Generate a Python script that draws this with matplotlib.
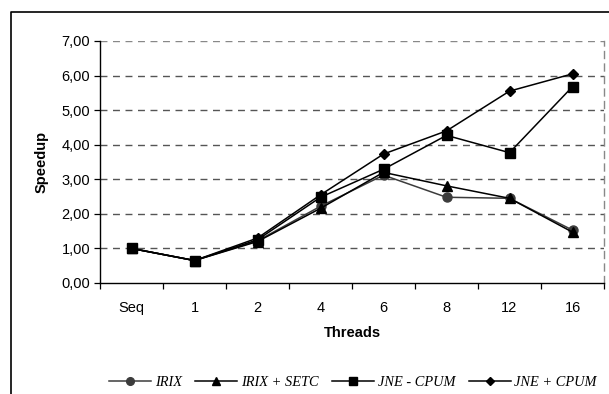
import matplotlib
matplotlib.use("Agg")
import matplotlib.pyplot as plt
from matplotlib.lines import Line2D
from matplotlib.ticker import FuncFormatter

threads = ["Seq", "1", "2", "4", "6", "8", "12", "16"]
irix = [1.00, 0.65, 1.22, 2.22, 3.12, 2.48, 2.45, 1.53]
irix_setc = [1.00, 0.65, 1.20, 2.16, 3.20, 2.81, 2.45, 1.47]
jne_minus_cpum = [1.00, 0.65, 1.25, 2.48, 3.29, 4.27, 3.77, 5.68]
jne_plus_cpum = [1.00, 0.65, 1.30, 2.55, 3.73, 4.40, 5.55, 6.05]
y_ticks = [0, 1, 2, 3, 4, 5, 6, 7]

sans = ["Liberation Sans", "DejaVu Sans"]
serif = ["Liberation Serif", "DejaVu Serif"]

fig = plt.figure(figsize=(6.09, 3.94), dpi=100)
ax = fig.add_axes([100 / 609, 1 - 283 / 394, 504 / 609, 242 / 394])

x = list(range(len(threads)))
series = [
    ("IRIX", irix, "o", "#3c3c3c", 6.5),
    ("IRIX + SETC", irix_setc, "^", "black", 7),
    ("JNE - CPUM", jne_minus_cpum, "s", "black", 6.5),
    ("JNE + CPUM", jne_plus_cpum, "D", "black", 5),
]
handles = []
for name, vals, mk, col, ms in series:
    h, = ax.plot(x, vals, marker=mk, color=col, lw=1.1, ms=ms,
                 markeredgecolor=col, markerfacecolor=col, label=name)
    handles.append(h)

ax.set_xlim(-0.5, len(threads) - 0.5)
ax.set_ylim(0, 7)
ax.set_yticks(y_ticks)
ax.yaxis.set_major_formatter(FuncFormatter(lambda v, p: f"{v:.2f}".replace(".", ",")))

# category labels centred, ticks at category boundaries
ax.set_xticks(x)
ax.set_xticklabels(threads, fontfamily=sans, fontsize=10.5)
ax.set_xticks([i - 0.5 for i in range(len(threads) + 1)], minor=True)
ax.tick_params(axis="x", which="major", length=0, pad=13)
ax.tick_params(axis="x", which="minor", length=4, width=0.9, direction="out")
ax.tick_params(axis="y", length=4, width=0.9, direction="out", pad=3)
for lab in ax.get_yticklabels():
    lab.set_fontfamily(sans)
    lab.set_fontsize(10.5)

# dashed horizontal gridlines
for v in y_ticks[1:]:
    ax.axhline(v, color="#555555" if v < 7 else "#888888", lw=1.0,
               ls=(0, (5, 4)), zorder=0)

ax.spines["top"].set_visible(False)
ax.spines["right"].set_color("#888888")
ax.spines["right"].set_linestyle((0, (5, 4)))
ax.spines["right"].set_linewidth(1.0)
ax.spines["left"].set_linewidth(1.0)
ax.spines["bottom"].set_linewidth(1.0)

ax.set_xlabel("Threads", fontfamily=sans, fontsize=10.5, fontweight="bold", labelpad=8)
ax.set_ylabel("Speedup", fontfamily=sans, fontsize=10.5, fontweight="bold", labelpad=9)

leg = fig.legend(handles=handles, loc="center", bbox_to_anchor=(353 / 609, 1 - 382 / 394),
                 ncol=4, frameon=False, handlelength=2.9, handletextpad=0.25,
                 columnspacing=0.95, markerscale=0.85,
                 prop={"family": serif, "style": "italic", "size": 10.4})

# outer chart frame
fig.add_artist(Line2D([11 / 609, 11 / 609, 1.0], [0.0, 1 - 12 / 394, 1 - 12 / 394],
                      transform=fig.transFigure, color="black", lw=1.2))

fig.savefig("out.png", dpi=100)
